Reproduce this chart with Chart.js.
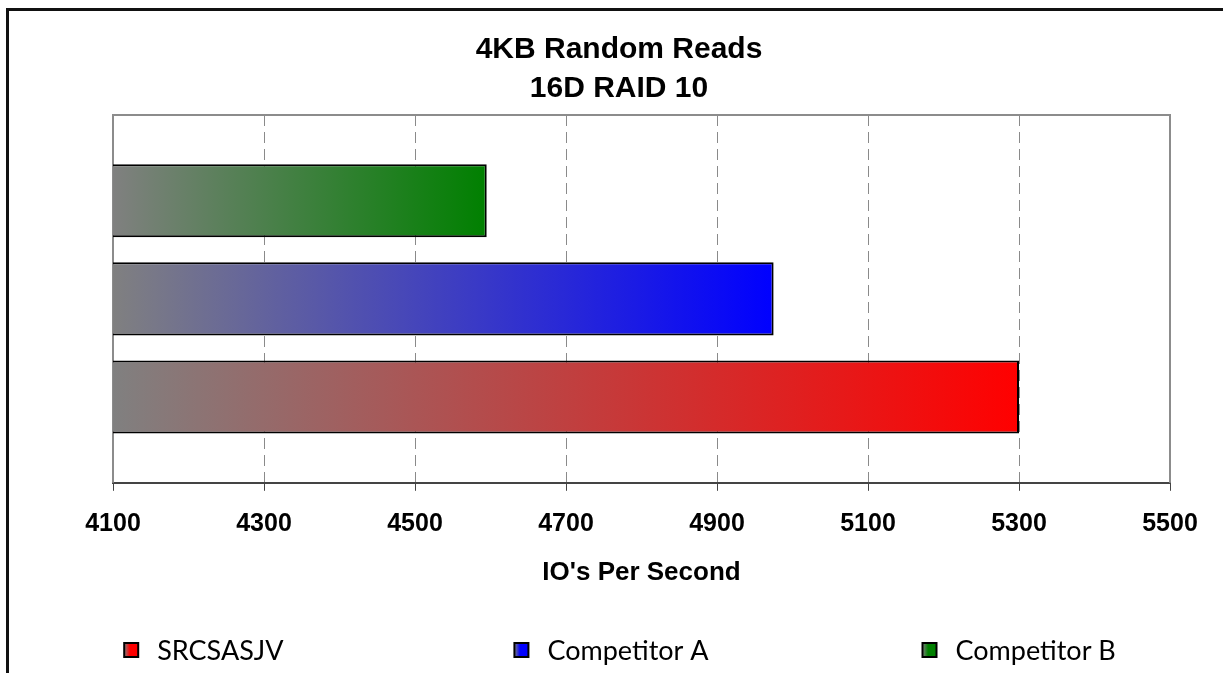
<!DOCTYPE html>
<html>
<head>
<meta charset="utf-8">
<script src="https://cdn.jsdelivr.net/npm/chart.js@4.4.1/dist/chart.umd.min.js"></script>
<style>
  html, body { margin: 0; padding: 0; background: #ffffff; }
  #wrap { width: 1223px; height: 673px; position: relative; }
</style>
</head>
<body>
<div id="wrap"><canvas id="c" width="1223" height="673"></canvas></div>
<script>
// ---- data ----
const chartTitle = ['4KB Random Reads', '16D RAID 10'];
const axisTitle = "IO's Per Second";
const seriesNames = ['SRCSASJV', 'Competitor A', 'Competitor B'];
const seriesValues = [5300, 4975, 4595];
const categories = [''];
const xMin = 4100;
const xMax = 5500;
const xStep = 200;

// ---- styles ----
const seriesColors = ['rgb(255,0,0)', 'rgb(0,0,255)', 'rgb(0,128,0)'];
const gradientStart = 'rgb(128,128,128)';
const boldFont = "'Liberation Sans', Arial, sans-serif";
const legendFont = "Lato, 'Noto Sans', sans-serif";

function barGradient(color) {
  return function (ctx) {
    const chart = ctx.chart;
    if (!chart.chartArea || ctx.type !== 'data' || !ctx.parsed) return color;
    const xs = chart.scales.x;
    const x0 = xs.getPixelForValue(xs.min);
    const x1 = xs.getPixelForValue(ctx.parsed.x);
    const g = chart.ctx.createLinearGradient(x0, 0, x1, 0);
    g.addColorStop(0, gradientStart);
    g.addColorStop(1, color);
    return g;
  };
}

// datasets drawn top-to-bottom: Competitor B, Competitor A, SRCSASJV
const order = [2, 1, 0];
const datasets = order.map(i => ({
  label: seriesNames[i],
  data: [seriesValues[i]],
  backgroundColor: barGradient(seriesColors[i]),
  borderColor: '#000000',
  borderWidth: 2,
  borderSkipped: false,
  categoryPercentage: 0.8,
  barPercentage: 0.745
}));

const framePlugin = {
  id: 'frame',
  beforeDraw(chart) {
    const c = chart.ctx;
    c.save();
    c.fillStyle = '#ffffff';
    c.fillRect(0, 0, chart.width, chart.height);
    c.strokeStyle = '#111111';
    c.lineWidth = 3;
    c.beginPath();
    c.moveTo(7.5, chart.height + 2);
    c.lineTo(7.5, 9.5);
    c.lineTo(chart.width + 2, 9.5);
    c.stroke();
    // chart title
    c.fillStyle = '#000000';
    c.font = 'bold 30px ' + boldFont;
    c.textAlign = 'center';
    c.textBaseline = 'middle';
    c.fillText(chartTitle[0], 619, 50);
    c.fillText(chartTitle[1], 619, 89);
    c.restore();
  },
  beforeDatasetsDraw(chart) {
    const a = chart.chartArea;
    const c = chart.ctx;
    c.save();
    c.strokeStyle = '#8c8c8c';
    c.lineWidth = 2;
    c.beginPath();
    c.moveTo(a.left, a.bottom);
    c.lineTo(a.left, a.top);
    c.lineTo(a.right, a.top);
    c.lineTo(a.right, a.bottom);
    c.stroke();
    c.restore();
  },
  afterDraw(chart) {
    // legend: three equal columns across the canvas, items in series order
    const c = chart.ctx;
    const y = 650;
    const box = 14;
    const gap = 19;
    c.save();
    c.font = '27px ' + legendFont;
    c.textBaseline = 'middle';
    c.textAlign = 'left';
    const n = seriesNames.length;
    for (let i = 0; i < n; i++) {
      const label = seriesNames[i];
      const tw = c.measureText(label).width;
      const total = box + gap + tw;
      const cx = chart.width * (i + 0.5) / n;
      const x0 = cx - total / 2;
      const g = c.createLinearGradient(x0, 0, x0 + box, 0);
      g.addColorStop(0, gradientStart);
      g.addColorStop(0.4, seriesColors[i]);
      g.addColorStop(1, seriesColors[i]);
      c.fillStyle = g;
      c.fillRect(x0, y - box / 2, box, box);
      c.strokeStyle = '#000000';
      c.lineWidth = 2;
      c.strokeRect(x0, y - box / 2, box, box);
      c.fillStyle = '#000000';
      c.fillText(label, x0 + box + gap, y + 1);
    }
    c.restore();
  }
};

new Chart(document.getElementById('c'), {
  type: 'bar',
  data: { labels: categories, datasets: datasets },
  plugins: [framePlugin],
  options: {
    indexAxis: 'y',
    responsive: false,
    animation: false,
    devicePixelRatio: 1,
    layout: { padding: { left: 113, right: 53, top: 115, bottom: 85 } },
    plugins: {
      legend: { display: false },
      tooltip: { enabled: false },
      title: { display: false }
    },
    scales: {
      x: {
        type: 'linear',
        min: xMin,
        max: xMax,
        ticks: {
          stepSize: xStep,
          color: '#000000',
          padding: 18,
          callback: v => String(v),
          font: { family: boldFont, size: 25, weight: 'bold', lineHeight: 1.2 }
        },
        grid: {
          color: '#8a8a8a',
          lineWidth: 1,
          tickLength: 8,
          tickColor: '#444444',
          tickBorderDash: []
        },
        border: { display: true, color: '#444444', width: 2, dash: [11, 6] },
        title: {
          display: true,
          text: axisTitle,
          color: '#000000',
          font: { family: boldFont, size: 26, weight: 'bold', lineHeight: 1.2 },
          padding: { top: 0, bottom: 0 }
        }
      },
      y: {
        display: false,
        grid: { display: false }
      }
    }
  }
});
</script>
</body>
</html>
